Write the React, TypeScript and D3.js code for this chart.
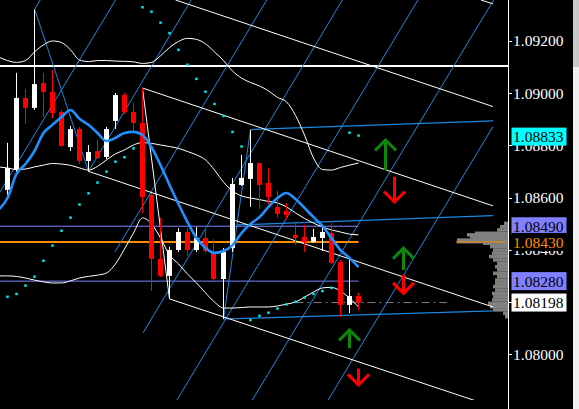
import React, { useEffect } from 'react';
import * as d3 from 'd3';

// ---------- data ----------
const barIndex = [-1, 0, 1, 2, 3, 4, 5, 6, 7, 8, 9, 10, 11, 12, 13, 14, 15, 16, 17, 18, 19, 20, 21, 22, 23, 24, 25, 26, 27, 28, 29, 30, 31, 32, 33, 34, 35, 36, 37, 38, 39];
const opens = [1.08648, 1.08629, 1.08705, 1.08981, 1.08943, 1.09038, 1.09004, 1.08927, 1.08793, 1.08862, 1.08740, 1.08778, 1.08755, 1.08893, 1.08992, 1.08927, 1.08885, 1.08610, 1.08365, 1.08300, 1.08399, 1.08468, 1.08399, 1.08445, 1.08388, 1.08288, 1.08407, 1.08648, 1.08671, 1.08732, 1.08656, 1.08564, 1.08548, 1.08457, 1.08449, 1.08430, 1.08445, 1.08464, 1.08353, 1.08189, 1.08223];
const highs = [1.08656, 1.08809, 1.09077, 1.09015, 1.09320, 1.09077, 1.09088, 1.08935, 1.08874, 1.08870, 1.08801, 1.08820, 1.08870, 1.09000, 1.09000, 1.08962, 1.09019, 1.08617, 1.08522, 1.08411, 1.08483, 1.08483, 1.08487, 1.08483, 1.08441, 1.08407, 1.08675, 1.08763, 1.08858, 1.08732, 1.08713, 1.08625, 1.08579, 1.08502, 1.08495, 1.08480, 1.08487, 1.08502, 1.08361, 1.08365, 1.08235];
const lows = [1.08621, 1.08610, 1.08698, 1.08881, 1.08935, 1.08908, 1.08904, 1.08793, 1.08778, 1.08728, 1.08700, 1.08747, 1.08747, 1.08862, 1.08920, 1.08851, 1.08541, 1.08242, 1.08296, 1.08212, 1.08392, 1.08376, 1.08392, 1.08388, 1.08284, 1.08135, 1.08392, 1.08644, 1.08564, 1.08556, 1.08571, 1.08522, 1.08518, 1.08418, 1.08392, 1.08426, 1.08395, 1.08346, 1.08143, 1.08158, 1.08170];
const closes = [1.08629, 1.08713, 1.08981, 1.08943, 1.09034, 1.09004, 1.08923, 1.08797, 1.08862, 1.08740, 1.08774, 1.08751, 1.08862, 1.08992, 1.08927, 1.08885, 1.08602, 1.08365, 1.08300, 1.08399, 1.08468, 1.08399, 1.08445, 1.08395, 1.08288, 1.08392, 1.08652, 1.08675, 1.08732, 1.08648, 1.08602, 1.08537, 1.08533, 1.08445, 1.08430, 1.08449, 1.08468, 1.08349, 1.08189, 1.08223, 1.08198];

const maValues = [1.08552, 1.08598, 1.08690, 1.08728, 1.08778, 1.08847, 1.08878, 1.08908, 1.08935, 1.08901, 1.08878, 1.08847, 1.08816, 1.08828, 1.08847, 1.08851, 1.08839, 1.08793, 1.08724, 1.08648, 1.08575, 1.08506, 1.08445, 1.08407, 1.08388, 1.08395, 1.08418, 1.08464, 1.08499, 1.08525, 1.08564, 1.08598, 1.08617, 1.08594, 1.08560, 1.08525, 1.08491, 1.08445, 1.08399, 1.08369, 1.08334];

const bbUpper = [1.09138, 1.09124, 1.09117, 1.09124, 1.09157, 1.09184, 1.09199, 1.09193, 1.09165, 1.09126, 1.09120, 1.09124, 1.09124, 1.09122, 1.09121, 1.09119, 1.09113, 1.09117, 1.09142, 1.09174, 1.09197, 1.09209, 1.09205, 1.09188, 1.09157, 1.09124, 1.09084, 1.09057, 1.09040, 1.09027, 1.09008, 1.08983, 1.08966, 1.08914, 1.08839, 1.08751, 1.08707, 1.08705, 1.08715, 1.08724, 1.08732];
const bbMiddle = [1.08717, 1.08713, 1.08707, 1.08709, 1.08717, 1.08724, 1.08730, 1.08728, 1.08723, 1.08713, 1.08705, 1.08719, 1.08744, 1.08767, 1.08782, 1.08801, 1.08810, 1.08807, 1.08801, 1.08795, 1.08788, 1.08776, 1.08763, 1.08744, 1.08705, 1.08659, 1.08625, 1.08606, 1.08598, 1.08592, 1.08585, 1.08579, 1.08564, 1.08541, 1.08520, 1.08502, 1.08487, 1.08476, 1.08468, 1.08460, 1.08457];
const bbLower = [1.08300, 1.08300, 1.08298, 1.08292, 1.08284, 1.08277, 1.08273, 1.08273, 1.08281, 1.08292, 1.08298, 1.08303, 1.08311, 1.08346, 1.08403, 1.08464, 1.08522, 1.08499, 1.08445, 1.08380, 1.08346, 1.08307, 1.08273, 1.08235, 1.08200, 1.08177, 1.08177, 1.08179, 1.08181, 1.08181, 1.08181, 1.08185, 1.08192, 1.08200, 1.08219, 1.08238, 1.08254, 1.08256, 1.08242, 1.08215, 1.08181];

const sarBars = [0, 1, 2, 3, 4, 5, 6, 7, 8, 9, 10, 11, 12, 13, 14, 15, 16, 17, 18, 19, 20, 21, 22, 23, 24, 25, 26, 27, 28, 29, 30, 31, 32, 33, 34, 35, 36, 38, 39];
const sarValues = [1.08220, 1.08231, 1.08263, 1.08297, 1.08358, 1.08416, 1.08473, 1.08523, 1.08573, 1.08616, 1.08657, 1.08699, 1.08737, 1.08754, 1.08788, 1.09328, 1.09311, 1.09269, 1.09229, 1.09165, 1.09108, 1.09054, 1.09005, 1.08958, 1.08912, 1.08851, 1.08795, 1.08131, 1.08147, 1.08159, 1.08175, 1.08191, 1.08201, 1.08217, 1.08231, 1.08242, 1.08254, 1.08848, 1.08837];

// straight objects: [bar1, price1, bar2, price2]
const gridLines = [
  [3.02, 1.09320, 3.64, 1.09356],
  [-1.94, 1.08558, 12.01, 1.09356],
  [9.0, 1.08700, 20.41, 1.09356],
  [11.94, 1.08392, 28.81, 1.09356],
  [15.06, 1.08082, 37.21, 1.09356],
  [18.23, 1.07791, 45.61, 1.09356],
  [26.61, 1.07791, 54.01, 1.09356],
  [35.03, 1.07791, 53.94, 1.08871],
];
const pivotLines = [
  [3.02, 1.09320, 9.0, 1.08700],
  [24, 1.08135, 27, 1.08860],
];
const channelLines = [
  [27, 1.08860, 53.94, 1.08893],
  [25.5, 1.08495, 53.94, 1.08531],
  [24, 1.08135, 53.94, 1.08166],
];
const forkLines = [
  [52.59, 1.09356, 53.94, 1.09341],
  [18.66, 1.09356, 53.94, 1.08948],
  [15, 1.09019, 53.94, 1.08568],
  [9, 1.08700, 53.94, 1.08181],
  [18, 1.08212, 53.94, 1.07800],
];
const zigzagLines = [
  [15, 1.09019, 18, 1.08212],
];

const whiteLevel = 1.09103;
const purpleLevels = [1.08490, 1.08280];
const orangeLevel = 1.08430;
const bidPrice = 1.08198;

const axisTicks = [1.092, 1.090, 1.088, 1.086, 1.084, 1.082, 1.080];
const tagPrices = [1.08833, 1.08490, 1.08430, 1.08280, 1.08198];

const profilePrices = [1.08501, 1.08488, 1.08476, 1.08463, 1.08457, 1.08450, 1.08444, 1.08437, 1.08431, 1.08425, 1.08412, 1.08399, 1.08387, 1.08374, 1.08361, 1.08348, 1.08335, 1.08323, 1.08310, 1.08297, 1.08284, 1.08272, 1.08259, 1.08246, 1.08233, 1.08220, 1.08208, 1.08195, 1.08182, 1.08170, 1.08157, 1.08144];
const profileVolume = [4, 8, 11, 33, 41, 38, 35, 51, 51, 25, 18, 15, 16, 19, 15, 11, 13, 11, 15, 11, 13, 13, 15, 13, 16, 15, 16, 20, 18, 15, 5, 3];

const upArrows = [
  { bar: 42, tip: 1.08820, tail: 1.08705 },
  { bar: 44, tip: 1.08406, tail: 1.08323 },
  { bar: 38, tip: 1.08093, tail: 1.08023 },
];
const downArrows = [
  { bar: 43, tip: 1.08583, tail: 1.08679 },
  { bar: 44, tip: 1.08233, tail: 1.08303 },
  { bar: 39, tip: 1.07883, tail: 1.07946 },
];

// ---------- chart ----------
const W = 579;
const H = 409;
const AXIS_X = 508;
const PLOT_BOTTOM = 400;

const x = d3.scaleLinear().domain([0, 40]).range([7.5, 367.5]);
const y = d3.scaleLinear().domain([1.08, 1.092]).range([354.3, 40.7]);
const vol = d3.scaleLinear().domain([0, 51]).range([0, 51]);

const FONT = '"Liberation Serif", "DejaVu Serif", serif';
const THIN_BLUE = '#1b88e0';
const MA_BLUE = '#1e90ff';
const PURPLE = '#8080ff';
const ORANGE = '#ff8c00';

function seriesPath(values: number[], curve = d3.curveMonotoneX) {
  const gen = d3
    .line<number>()
    .x((_, k) => x(barIndex[k]))
    .y((v) => y(v))
    .curve(curve);
  return gen(values) || '';
}

function Seg({ s, stroke, width = 1 }: { s: number[]; stroke: string; width?: number }) {
  return <line x1={x(s[0])} y1={y(s[1])} x2={x(s[2])} y2={y(s[3])} stroke={stroke} strokeWidth={width} />;
}

function Arrow({ bar, tip, tail, color }: { bar: number; tip: number; tail: number; color: string }) {
  const cx = x(bar);
  const ty = y(tip);
  const by = y(tail);
  const dir = by > ty ? 1 : -1; // 1 = pointing up
  const head = 10.5;
  const d = `M${cx},${by} L${cx},${ty} M${cx - head},${ty + dir * head} L${cx},${ty} L${cx + head},${ty + dir * head}`;
  return <path d={d} stroke={color} strokeWidth={3} fill="none" strokeLinecap="butt" strokeLinejoin="miter" />;
}

export default function App() {
  useEffect(() => {
    document.body.style.margin = '0';
    document.body.style.background = '#000';
  }, []);

  const tagStyles = [
    { bg: '#00ffff', fg: '#000000' },
    { bg: PURPLE, fg: '#000000' },
    { bg: '#000000', fg: ORANGE },
    { bg: PURPLE, fg: '#000000' },
    { bg: '#ffffff', fg: '#000000' },
  ];

  return (
    <svg width={W} height={H} style={{ position: 'absolute', left: 0, top: 0, display: 'block', background: '#000' }}>
      <defs>
        <clipPath id="plot">
          <rect x={0} y={0} width={AXIS_X} height={PLOT_BOTTOM} />
        </clipPath>
      </defs>
      <rect x={0} y={0} width={W} height={H} fill="#000" />

      <g clipPath="url(#plot)">
        {/* volume profile */}
        {profilePrices.map((p, k) => (
          <rect key={'vp' + k} x={AXIS_X - vol(profileVolume[k])} y={y(p) - 1.75} width={vol(profileVolume[k])} height={3.5} fill="#808080" />
        ))}
        <line x1={456} x2={AXIS_X - 2} y1={y(orangeLevel)} y2={y(orangeLevel)} stroke={ORANGE} strokeWidth={1} />

        {/* horizontal levels */}
        <line x1={0} x2={AXIS_X} y1={y(whiteLevel)} y2={y(whiteLevel)} stroke="#fff" strokeWidth={2} />
        {purpleLevels.map((p, k) => (
          <line key={'pl' + k} x1={0} x2={x(39)} y1={y(p)} y2={y(p)} stroke={PURPLE} strokeWidth={1} />
        ))}
        <line x1={0} x2={x(39)} y1={y(orangeLevel)} y2={y(orangeLevel)} stroke={ORANGE} strokeWidth={2} />
        <line x1={x(32)} x2={x(48.8)} y1={y(bidPrice)} y2={y(bidPrice)} stroke="#808080" strokeWidth={1} strokeDasharray="8,4,2,4" />

        {/* blue grid */}
        {gridLines.map((s, k) => <Seg key={'g' + k} s={s} stroke={THIN_BLUE} />)}
        {pivotLines.map((s, k) => <Seg key={'pv' + k} s={s} stroke={THIN_BLUE} />)}
        {channelLines.map((s, k) => <Seg key={'ch' + k} s={s} stroke={THIN_BLUE} width={1.2} />)}

        {/* white fork lines */}
        {forkLines.map((s, k) => <Seg key={'f' + k} s={s} stroke="#ffffff" />)}
        {zigzagLines.map((s, k) => <Seg key={'z' + k} s={s} stroke="#ffffff" />)}

        {/* bollinger */}
        <path d={seriesPath(bbUpper)} fill="none" stroke="#fff" strokeWidth={1} />
        <path d={seriesPath(bbMiddle)} fill="none" stroke="#fff" strokeWidth={1} />
        <path d={seriesPath(bbLower)} fill="none" stroke="#fff" strokeWidth={1} />

        {/* candles */}
        {barIndex.map((b, k) => {
          const up = closes[k] >= opens[k];
          const col = up ? '#ffffff' : '#ff0000';
          const cx = Math.round(x(b)) - 0.5;
          const top = y(Math.max(opens[k], closes[k]));
          const bot = y(Math.min(opens[k], closes[k]));
          return (
            <g key={'c' + k}>
              <line x1={cx} x2={cx} y1={y(highs[k])} y2={y(lows[k])} stroke={col} strokeWidth={1} />
              <rect x={cx - 2.5} y={top} width={5} height={Math.max(1, bot - top)} fill={col} />
            </g>
          );
        })}

        {/* moving average */}
        <path d={seriesPath(maValues)} fill="none" stroke={MA_BLUE} strokeWidth={2.6} />

        {/* parabolic SAR */}
        {sarBars.map((b, k) => (
          <rect key={'s' + k} x={x(b) - 1.25} y={y(sarValues[k]) - 1.25} width={2.5} height={2.5} fill="#00e8e8" />
        ))}

        {/* arrows */}
        {upArrows.map((a, k) => <Arrow key={'u' + k} {...a} color="#0a8a0a" />)}
        {downArrows.map((a, k) => <Arrow key={'d' + k} {...a} color="#ff0000" />)}
      </g>

      {/* right axis */}
      <line x1={AXIS_X + 0.5} x2={AXIS_X + 0.5} y1={0} y2={H} stroke="#fff" strokeWidth={1} />
      {axisTicks.map((t) => (
        <g key={'t' + t}>
          <line x1={AXIS_X} x2={AXIS_X + 4} y1={Math.round(y(t)) + 0.5} y2={Math.round(y(t)) + 0.5} stroke="#fff" strokeWidth={1} />
          <text x={513} y={y(t)} dy="0.36em" fill="#fff" fontFamily={FONT} fontSize={15.5}>
            {d3.format('.5f')(t)}
          </text>
        </g>
      ))}
      {tagPrices.map((p, k) => (
        <g key={'tag' + k}>
          <rect x={511.5} y={y(p) - 9} width={55} height={18} fill={tagStyles[k].bg} />
          <text x={513} y={y(p)} dy="0.36em" fill={tagStyles[k].fg} fontFamily={FONT} fontSize={15.5}>
            {d3.format('.5f')(p)}
          </text>
        </g>
      ))}

      {/* right strip */}
      <rect x={573} y={0} width={6} height={H} fill="#f0f0f0" />
      <rect x={573} y={0} width={6} height={67} fill="#c8c8c8" />
    </svg>
  );
}
